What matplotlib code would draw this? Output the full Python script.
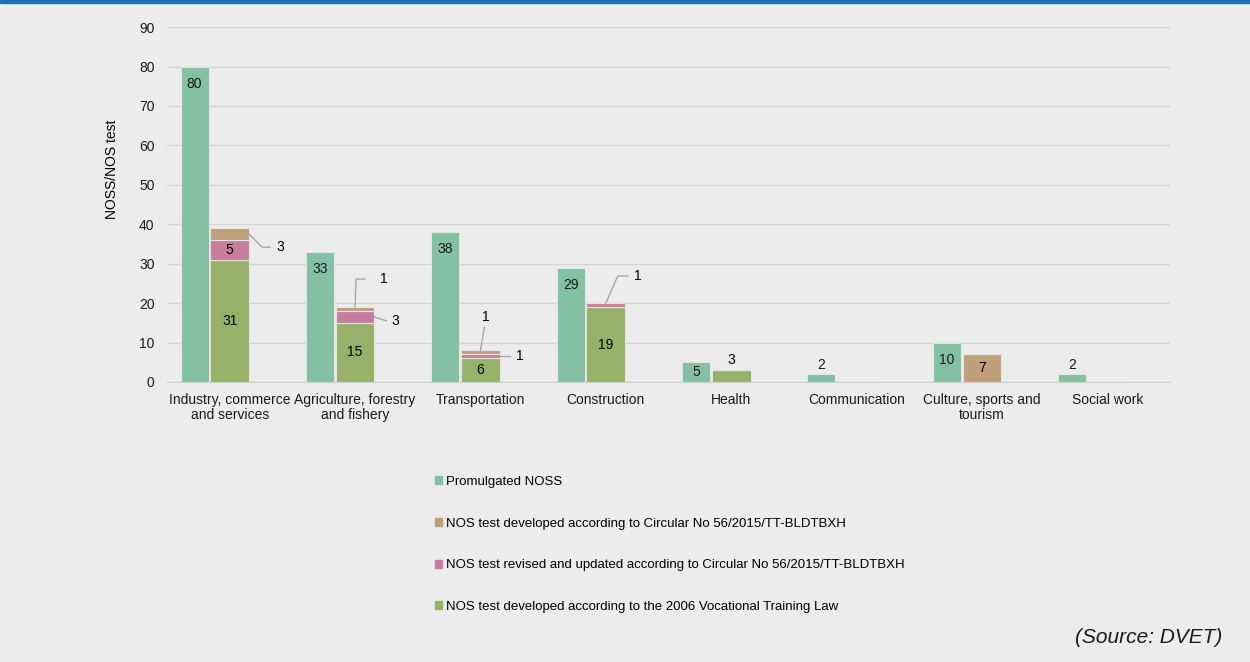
import matplotlib.pyplot as plt
from matplotlib.patches import Patch, Rectangle

plt.rcParams['font.family'] = ['Liberation Sans', 'DejaVu Sans']

# chart data
categories = ["Industry, commerce\nand services", "Agriculture, forestry\nand fishery",
              "Transportation", "Construction", "Health", "Communication",
              "Culture, sports and\ntourism", "Social work"]
noss = [80, 33, 38, 29, 5, 2, 10, 2]
law_2006 = [31, 15, 6, 19, 3, 0, 0, 0]
revised = [5, 3, 1, 1, 0, 0, 0, 0]
circular = [3, 1, 1, 0, 0, 0, 7, 0]
series_names = ["Promulgated NOSS",
                "NOS test developed according to Circular No 56/2015/TT-BLDTBXH",
                "NOS test revised and updated according to Circular No 56/2015/TT-BLDTBXH",
                "NOS test developed according to the 2006 Vocational Training Law"]

c_noss = "#84c0a3"
c_circ = "#c0a07c"
c_rev = "#c87d9e"
c_law = "#98b16a"
bg = "#ececec"
grey_line = "#a6a6a6"

fig = plt.figure(figsize=(12.5, 6.62), dpi=100, facecolor=bg)
fig.patches.append(Rectangle((0, 0.995), 1, 0.005, transform=fig.transFigure,
                             color="#1f6db5", zorder=5))
ax = fig.add_axes([0.1336, 0.423, 0.8024, 0.536])
ax.set_facecolor(bg)

x = list(range(len(categories)))
w_noss = 0.223
w_stack = 0.31
x_noss = [i - 0.28 for i in x]

ax.bar(x_noss, noss, width=w_noss, color=c_noss, edgecolor="#e4e4e4", linewidth=0.8, zorder=3)
ax.bar(x, law_2006, width=w_stack, color=c_law, edgecolor="#e4e4e4", linewidth=0.8, zorder=3)
bot2 = law_2006
ax.bar(x, revised, width=w_stack, bottom=bot2, color=c_rev, edgecolor="#e4e4e4", linewidth=0.8, zorder=3)
bot3 = [a + b for a, b in zip(law_2006, revised)]
ax.bar(x, circular, width=w_stack, bottom=bot3, color=c_circ, edgecolor="#e4e4e4", linewidth=0.8, zorder=3)

fs = 10
# labels on NOSS bars
for xi, v in zip(x_noss, noss):
    if v >= 10:
        y = v - 4.3
    elif v >= 3:
        y = v / 2
    else:
        y = v + 2.3
    ax.text(xi, y, str(v), ha="center", va="center", fontsize=fs, color="#1a1a1a", zorder=4)

# labels inside stacked segments (big enough ones)
for i in x:
    tot = law_2006[i] + revised[i] + circular[i]
    if law_2006[i] >= 5:
        ax.text(i, law_2006[i] / 2, str(law_2006[i]), ha="center", va="center", fontsize=fs, zorder=4)
    elif law_2006[i] > 0 and tot == law_2006[i]:
        ax.text(i, law_2006[i] + 2.6, str(law_2006[i]), ha="center", va="center", fontsize=fs, zorder=4)
    if revised[i] >= 5:
        ax.text(i, law_2006[i] + revised[i] / 2, str(revised[i]), ha="center", va="center", fontsize=fs, zorder=4)
    if circular[i] > 0 and tot == circular[i]:
        ax.text(i, circular[i] / 2, str(circular[i]), ha="center", va="center", fontsize=fs, zorder=4)

# small segments labelled with leader lines
half = w_stack / 2
px = 8 / 1003.0


def leader(pts, label, lx, ly):
    ax.plot([p[0] for p in pts], [p[1] for p in pts], color=grey_line, lw=1, zorder=4)
    ax.text(lx, ly, label, ha="center", va="center", fontsize=fs, zorder=4)


# industry - circular
yc = bot3[0] + circular[0] / 2
leader([(0 + half, yc), (0 + half + 13 * px, 34.2), (0 + half + 21 * px, 34.2)],
       str(circular[0]), 0 + half + 31 * px, 34.2)
# agriculture - circular
top = bot3[1] + circular[1]
leader([(1, top), (1 + 1 * px, 26.1), (1 + 10 * px, 26.1)], str(circular[1]), 1 + 29 * px, 26.1)
# agriculture - revised
yc = law_2006[1] + revised[1] / 2
leader([(1 + half, yc), (1 + half + 12 * px, 15.5)], str(revised[1]), 1 + half + 21 * px, 15.5)
# transportation - circular
top = bot3[2] + circular[2]
leader([(2, top), (2 + 4 * px, 13.9)], str(circular[2]), 2 + 5 * px, 16.5)
# transportation - revised
yc = law_2006[2] + revised[2] / 2
leader([(2 + half, yc), (2 + half + 10 * px, yc)], str(revised[2]), 2 + half + 20 * px, yc)
# construction - revised
top = law_2006[3] + revised[3]
leader([(3, top), (3 + 12 * px, 26.9), (3 + 22 * px, 26.9)], str(revised[3]), 3 + 32 * px, 26.9)

ax.set_xlim(-0.5, len(categories) - 0.5)
ax.set_ylim(0, 90)
ax.set_yticks(range(0, 91, 10))
ax.set_xticks(x)
ax.set_xticklabels(categories, fontsize=fs, color="#1a1a1a", linespacing=1.1)
ax.tick_params(axis="y", length=0, pad=9, labelsize=fs, labelcolor="#1a1a1a")
ax.tick_params(axis="x", length=0, pad=8)
ax.grid(axis="y", color="#d4d4d4", lw=1, zorder=0)
for s in ["top", "right", "left"]:
    ax.spines[s].set_visible(False)
ax.spines["bottom"].set_color("#cfcfcf")
ax.set_ylabel("NOSS/NOS test", fontsize=fs)
ax.yaxis.set_label_coords(-0.048, 0.6)

handles = [Patch(color=c_noss), Patch(color=c_circ), Patch(color=c_rev), Patch(color=c_law)]
fig.legend(handles, series_names, loc="upper left", bbox_to_anchor=(0.348, 0.281),
           frameon=False, fontsize=9.5, handlelength=0.55, handleheight=0.55,
           handletextpad=0.25, labelspacing=2.25, borderpad=0, borderaxespad=0)

fig.text(0.978, 0.037, "(Source: DVET)", ha="right", va="center", fontsize=15, style="italic",
         color="#1a1a1a")

fig.savefig("out.png", dpi=100, facecolor=bg)
